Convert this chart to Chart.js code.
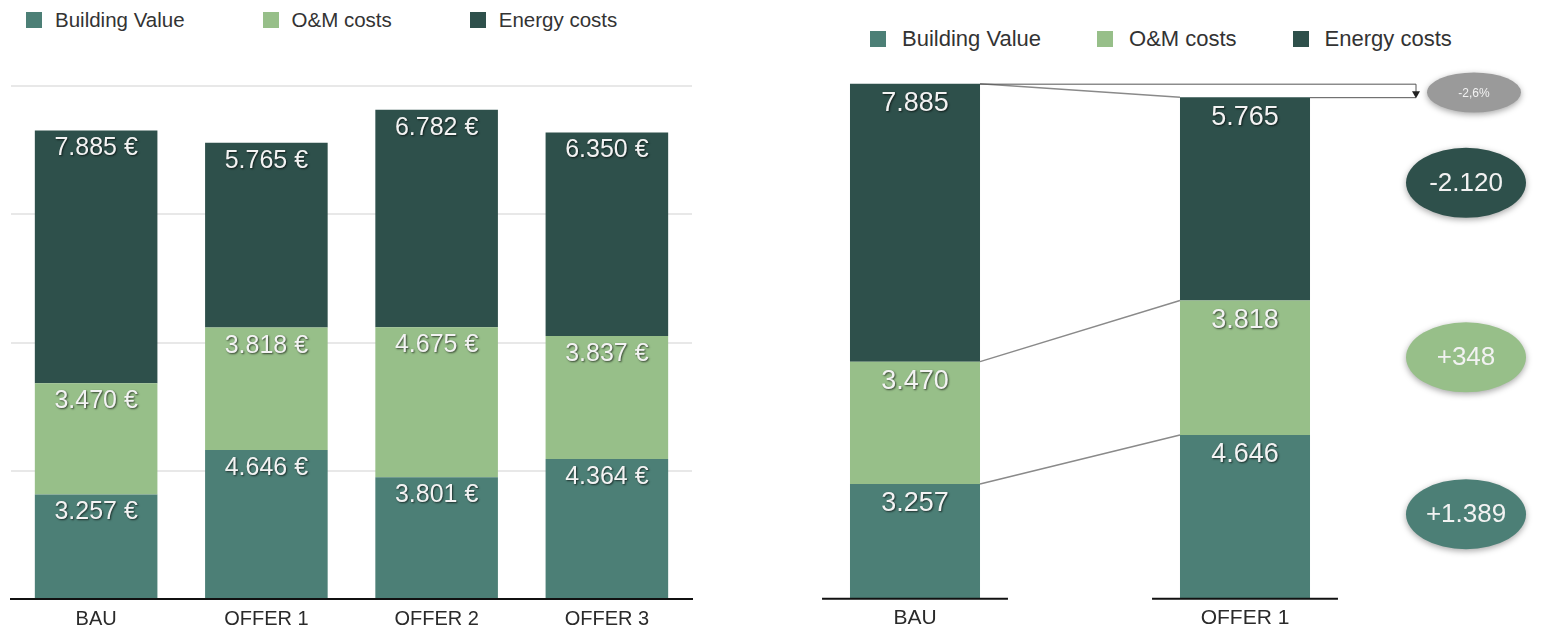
<!DOCTYPE html>
<html>
<head>
<meta charset="utf-8">
<script src="https://cdn.jsdelivr.net/npm/chart.js@4.4.1/dist/chart.umd.min.js"></script>
<style>
  body { margin: 0; width: 1544px; height: 630px; background: #fff; position: relative; overflow: hidden;
         font-family: "Liberation Sans", Arial, sans-serif; }
  .legend { position: absolute; display: flex; align-items: center; color: #333; white-space: nowrap; }
  .legend .item { display: flex; align-items: center; }
  .legend i { display: inline-block; width: 16px; height: 16px; }
  #leftLegend { left: 26px; top: 8px; font-size: 20.5px; }
  #leftLegend .item { margin-right: 78px; }
  #leftLegend i { margin-right: 13px; }
  #rightLegend { left: 870px; top: 26px; font-size: 22px; }
  #rightLegend .item { margin-right: 56px; }
  #rightLegend i { margin-right: 16px; }
  #leftChart { position: absolute; left: 0; top: 0; }
  #rightChart { position: absolute; left: 700px; top: 0; }
</style>
</head>
<body>
<div id="leftLegend" class="legend"></div>
<div id="rightLegend" class="legend"></div>
<canvas id="leftChart" width="700" height="641"></canvas>
<canvas id="rightChart" width="844" height="638"></canvas>
<script>
const categories = ['BAU', 'OFFER 1', 'OFFER 2', 'OFFER 3'];
const buildingValue = [3257, 4646, 3801, 4364];
const omCosts = [3470, 3818, 4675, 3837];
const energyCosts = [7885, 5765, 6782, 6350];
const seriesNames = ['Building Value', 'O&M costs', 'Energy costs'];
const seriesColors = ['#4c7f76', '#97bf89', '#2e504b'];

// right chart only compares BAU with offer 1
const compareCategories = categories.slice(0, 2);

const FONT = '"Liberation Sans", Arial, sans-serif';

function fmt(v) {
  return String(Math.abs(v)).replace(/\B(?=(\d{3})+(?!\d))/g, '.');
}
function signed(v) {
  return (v < 0 ? '-' : '+') + fmt(v);
}

// html legends
['leftLegend', 'rightLegend'].forEach(id => {
  const box = document.getElementById(id);
  seriesNames.forEach((name, i) => {
    const item = document.createElement('span');
    item.className = 'item';
    const sw = document.createElement('i');
    sw.style.background = seriesColors[i];
    item.appendChild(sw);
    item.appendChild(document.createTextNode(name));
    box.appendChild(item);
  });
});

// white labels near the top of each segment
const barLabels = {
  id: 'barLabels',
  afterDatasetsDraw(chart, args, opts) {
    const ctx = chart.ctx;
    ctx.save();
    ctx.font = opts.size + 'px ' + FONT;
    ctx.textAlign = 'center';
    ctx.textBaseline = 'middle';
    ctx.fillStyle = '#f3f3f3';
    ctx.shadowColor = 'rgba(0,0,0,0.65)';
    ctx.shadowBlur = 2;
    ctx.shadowOffsetX = 1;
    ctx.shadowOffsetY = 1;
    chart.data.datasets.forEach((ds, d) => {
      chart.getDatasetMeta(d).data.forEach((bar, i) => {
        const p = bar.getProps(['x', 'y'], true);
        ctx.fillText(fmt(ds.data[i]) + opts.suffix, p.x, p.y + opts.offset);
      });
    });
    ctx.restore();
  }
};

// connectors, axis stubs and difference bubbles on the comparison chart
const compareDecor = {
  id: 'compareDecor',
  afterDatasetsDraw(chart, args, opts) {
    const ctx = chart.ctx;
    const area = chart.chartArea;
    const yScale = chart.scales.y;
    const metas = chart.data.datasets.map((ds, d) => chart.getDatasetMeta(d).data.map(b => b.getProps(['x', 'y', 'width'], true)));
    ctx.save();

    // short axis line under each bar
    ctx.strokeStyle = '#111';
    ctx.lineWidth = 2;
    metas[0].forEach(b => {
      ctx.beginPath();
      ctx.moveTo(b.x - b.width * 0.715, area.bottom);
      ctx.lineTo(b.x + b.width * 0.715, area.bottom);
      ctx.stroke();
    });

    // connectors between segment tops
    ctx.strokeStyle = '#8a8a8a';
    ctx.lineWidth = 1.5;
    metas.forEach(m => {
      const a = m[0], b = m[1];
      ctx.beginPath();
      ctx.moveTo(a.x + a.width / 2, a.y);
      ctx.lineTo(b.x - b.width / 2, b.y);
      ctx.stroke();
    });

    // total bracket with arrow
    const top = metas[2];
    const ax = area.right + 6;
    ctx.strokeStyle = '#555';
    ctx.lineWidth = 1;
    ctx.beginPath();
    ctx.moveTo(top[0].x + top[0].width / 2, top[0].y + 0.5);
    ctx.lineTo(ax, top[0].y + 0.5);
    ctx.lineTo(ax, top[1].y - 5);
    ctx.moveTo(top[1].x + top[1].width / 2, top[1].y + 0.5);
    ctx.lineTo(ax, top[1].y + 0.5);
    ctx.stroke();
    ctx.fillStyle = '#222';
    ctx.beginPath();
    ctx.moveTo(ax - 4, top[1].y - 6);
    ctx.lineTo(ax + 4, top[1].y - 6);
    ctx.lineTo(ax, top[1].y + 1);
    ctx.closePath();
    ctx.fill();

    const cx = area.right + 56;
    function bubble(x, y, rx, ry, color, text, size) {
      ctx.save();
      ctx.shadowColor = 'rgba(0,0,0,0.35)';
      ctx.shadowBlur = 6;
      ctx.shadowOffsetY = 2;
      ctx.fillStyle = color;
      ctx.beginPath();
      ctx.ellipse(x, y, rx, ry, 0, 0, Math.PI * 2);
      ctx.fill();
      ctx.restore();
      ctx.save();
      ctx.fillStyle = '#f2f2f2';
      ctx.font = size + 'px ' + FONT;
      ctx.textAlign = 'center';
      ctx.textBaseline = 'middle';
      ctx.fillText(text, x, y + 1);
      ctx.restore();
    }

    const totals = [0, 1].map(i => chart.data.datasets.reduce((s, ds) => s + ds.data[i], 0));
    const pct = ((totals[1] - totals[0]) / totals[0] * 100).toFixed(1).replace('.', ',') + '%';
    bubble(cx + 8, (top[0].y + top[1].y) / 2 + 2, 47, 20, '#9a9a9a', pct, 12);

    chart.data.datasets.forEach((ds, d) => {
      const diff = ds.data[1] - ds.data[0];
      bubble(cx, yScale.getPixelForValue(opts.bubbleAt[d]), 60, 35, seriesColors[d], signed(diff), 26);
    });
    ctx.restore();
  }
};

function makeDatasets(n) {
  return [buildingValue, omCosts, energyCosts].map((vals, i) => ({
    label: seriesNames[i],
    data: vals.slice(0, n),
    backgroundColor: seriesColors[i],
    borderWidth: 0
  }));
}

new Chart(document.getElementById('leftChart'), {
  type: 'bar',
  data: { labels: categories, datasets: makeDatasets(categories.length) },
  options: {
    responsive: false,
    animation: false,
    layout: { padding: { left: 11, right: 8, top: 86, bottom: 2 } },
    plugins: {
      legend: { display: false },
      tooltip: { enabled: false },
      barLabels: { size: 25, suffix: ' €', offset: 18 }
    },
    scales: {
      x: {
        stacked: true,
        grid: { display: false, drawTicks: false },
        border: { display: true, color: '#111', width: 2 },
        ticks: { padding: 8, color: '#2a2a2a', font: { size: 20, family: FONT } }
      },
      y: {
        stacked: true,
        min: 0,
        max: 16000,
        ticks: { display: false, stepSize: 4000 },
        grid: { color: '#e8e8e8', lineWidth: 2, drawTicks: false },
        border: { display: false }
      }
    }
  },
  plugins: [barLabels]
});

new Chart(document.getElementById('rightChart'), {
  type: 'bar',
  data: { labels: compareCategories, datasets: makeDatasets(compareCategories.length) },
  options: {
    responsive: false,
    animation: false,
    layout: { padding: { left: 50, right: 134, top: 70, bottom: 0 } },
    datasets: { bar: { categoryPercentage: 0.394, barPercentage: 1 } },
    plugins: {
      legend: { display: false },
      tooltip: { enabled: false },
      barLabels: { size: 27, suffix: '', offset: 20 },
      compareDecor: { bubbleAt: [2400, 6850, 11800] }
    },
    scales: {
      x: {
        stacked: true,
        grid: { display: false, drawTicks: false },
        border: { display: false },
        ticks: { padding: 7, color: '#2a2a2a', font: { size: 21, family: FONT } }
      },
      y: { stacked: true, display: false, min: 0, max: 15000 }
    }
  },
  plugins: [barLabels, compareDecor]
});
</script>
</body>
</html>
